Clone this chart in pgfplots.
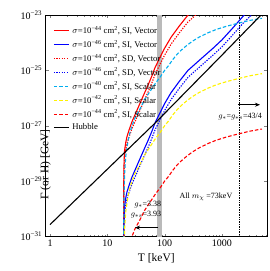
\documentclass[border=0pt]{standalone}
\usepackage{fontspec}
\setmainfont{Liberation Serif}
\usepackage{pgfplots}
\usepackage{pgfplotstable}
\pgfplotsset{compat=1.18}
\usetikzlibrary{arrows.meta}

\pgfplotstableread{
T G
19.32 3.162e-34
19.36 1e-32
19.4 1e-31
19.5 2.512e-31
19.7 6.310e-31
20 1.259e-30
21 2.512e-30
22 3.981e-30
24 7.079e-30
27 1.413e-29
32 3.162e-29
37 6.310e-29
45 1.585e-28
51 2.818e-28
60 6.310e-28
68 1.259e-27
80 2.512e-27
100 6.310e-27
130 1.585e-26
180 3.981e-26
256 1e-25
350 1.778e-25
450 2.818e-25
700 6.310e-25
1000 1.259e-24
1500 3.162e-24
2450 1e-23
3500 1.995e-23
}\bluesolid

\pgfplotstableread{
T G
19.32 1.778e-34
19.36 5.623e-33
19.4 5.623e-32
19.5 1.413e-31
19.7 3.548e-31
20 7.079e-31
21 1.413e-30
22 2.239e-30
24 3.981e-30
27 7.943e-30
32 1.778e-29
37 3.548e-29
45 8.913e-29
51 1.585e-28
60 3.548e-28
68 7.079e-28
80 1.413e-27
100 3.548e-27
130 8.913e-27
180 2.239e-26
256 5.623e-26
350 1e-25
450 1.585e-25
700 3.548e-25
1000 7.079e-25
1500 1.778e-24
2450 5.623e-24
3500 1.122e-23
5000 2.239e-23
}\bluedotted

\pgfplotstableread{
T G
19.32 3.162e-32
19.36 1e-30
19.4 1e-29
19.5 2.512e-29
19.7 6.310e-29
20 1.259e-28
21 2.512e-28
22 3.981e-28
24 7.079e-28
27 1.413e-27
32 3.162e-27
37 6.310e-27
45 1.585e-26
51 2.818e-26
60 6.310e-26
68 1.259e-25
80 2.512e-25
100 6.310e-25
130 1.585e-24
180 3.981e-24
256 1e-23
350 1.778e-23
}\redsolid

\pgfplotstableread{
T G
19.32 1.778e-32
19.36 5.623e-31
19.4 5.623e-30
19.5 1.413e-29
19.7 3.548e-29
20 7.079e-29
21 1.413e-28
22 2.239e-28
24 3.981e-28
27 7.943e-28
32 1.778e-27
37 3.548e-27
45 8.913e-27
51 1.585e-26
60 3.548e-26
68 7.079e-26
80 1.413e-25
100 3.548e-25
130 8.913e-25
180 2.239e-24
256 5.623e-24
350 1e-23
450 1.585e-23
}\reddotted

\pgfplotstableread{
T G
19.31 1.259e-32
19.35 1.995e-31
19.5 1.995e-30
20 1.698e-29
21 7.943e-29
23 2.884e-28
25 6.026e-28
27 1e-27
30 1.778e-27
37 3.981e-27
45 8.913e-27
56 1.778e-26
70 3.548e-26
83 5.623e-26
100 1e-25
115 1.413e-25
140 2.512e-25
165 3.802e-25
200 5.623e-25
250 8.318e-25
315 1.175e-24
400 1.585e-24
575 2.291e-24
800 3.020e-24
1230 3.981e-24
1900 5.012e-24
3000 6.310e-24
4600 7.413e-24
5000 7.586e-24
}\cyandashed

\pgfplotstableread{
T G
19.31 1.259e-34
19.35 1.995e-33
19.5 1.995e-32
20 1.698e-31
21 7.943e-31
23 2.884e-30
25 6.026e-30
27 1e-29
30 1.778e-29
37 3.981e-29
45 8.913e-29
56 1.778e-28
70 3.548e-28
83 5.623e-28
100 1e-27
115 1.413e-27
140 2.512e-27
165 3.802e-27
200 5.623e-27
250 8.318e-27
315 1.175e-26
400 1.585e-26
575 2.291e-26
800 3.020e-26
1230 3.981e-26
1900 5.012e-26
3000 6.310e-26
4600 7.413e-26
5000 7.586e-26
}\yellowdashed

\pgfplotstableread{
T G
19.31 1.259e-36
19.35 1.995e-35
19.5 1.995e-34
20 1.698e-33
21 7.943e-33
23 2.884e-32
25 6.026e-32
27 1e-31
30 1.778e-31
37 3.981e-31
45 8.913e-31
56 1.778e-30
70 3.548e-30
83 5.623e-30
100 1e-29
115 1.413e-29
140 2.512e-29
165 3.802e-29
200 5.623e-29
250 8.318e-29
315 1.175e-28
400 1.585e-28
575 2.291e-28
800 3.020e-28
1230 3.981e-28
1900 5.012e-28
3000 6.310e-28
4600 7.413e-28
5000 7.586e-28
}\reddashed

\pgfplotstableread{
T G
1 2.69e-31
10 2.69e-29
70 1.318e-27
300 2.818e-26
1000 3.548e-25
6124 1.66e-23
}\hubble

\begin{document}
\begin{tikzpicture}
\path[use as bounding box] (-45.7pt,-34.5pt) rectangle (224.3pt,236.5pt);
\begin{axis}[
  at={(0,0)}, anchor=south west,
  scale only axis, width=221.3pt, height=221.5pt,
  xmode=log, ymode=log,
  xmin=0.841, xmax=6124, ymin=1e-31, ymax=1e-23,
  xtick={1,10,100,1000}, xticklabels={1,10,100,1000},
  minor xtick={2,3,4,5,6,7,8,9,20,30,40,50,60,70,80,90,200,300,400,500,600,700,800,900,2000,3000,4000,5000,6000},
  ytick={1e-31,1e-29,1e-27,1e-25,1e-23},
  yticklabels={10\textsuperscript{−31},10\textsuperscript{−29},10\textsuperscript{−27},10\textsuperscript{−25},10\textsuperscript{−23}},
  yminorticks=false,
  tick align=inside,
  major tick length=3pt, minor tick length=1.6pt,
  tick label style={font=\fontsize{10}{11}\selectfont},
  xlabel={T [keV]}, ylabel={Γ (or H) [GeV]},
  every axis x label/.style={at={(axis description cs:0.5,0)}, anchor=center, yshift=-21.5pt, font=\fontsize{11.5}{12}\selectfont},
  every axis y label/.style={at={(axis description cs:0,0.5)}, anchor=center, rotate=90, xshift=-38.7pt, font=\fontsize{11.5}{12}\selectfont},
  legend image code/.code={\draw[#1, line width=1.1pt] (0pt,0pt) -- (15pt,0pt);},
  legend cell align=left,
  legend style={draw=none, fill opacity=0, text opacity=1, draw opacity=1, at={(0.033,0.96)}, anchor=north west, inner sep=0pt,
    font=\fontsize{8.7}{9}\selectfont, column sep=1pt, row sep=0.6pt},
]
\fill[black!27] (axis cs:73,1e-31) rectangle (axis cs:89,1e-23);
\draw[densely dotted, line width=0.7pt] (axis cs:2000,1e-31) -- (axis cs:2000,1e-23);

\addplot[draw=red, line width=1.1pt] table[x=T,y=G] {\redsolid};
\addlegendentry{$\sigma$=10\textsuperscript{−44} cm\textsuperscript{2}, SI, Vector}
\addplot[draw=blue, line width=1.1pt] table[x=T,y=G] {\bluesolid};
\addlegendentry{$\sigma$=10\textsuperscript{−46} cm\textsuperscript{2}, SI, Vector}
\addplot[draw=red, line width=1.1pt, dash pattern=on 1.3pt off 1.3pt] table[x=T,y=G] {\reddotted};
\addlegendentry{$\sigma$=10\textsuperscript{−44} cm\textsuperscript{2}, SD, Vector}
\addplot[draw=blue, line width=1.1pt, dash pattern=on 1.3pt off 1.3pt] table[x=T,y=G] {\bluedotted};
\addlegendentry{$\sigma$=10\textsuperscript{−46} cm\textsuperscript{2}, SD, Vector}
\addplot[draw=cyan, line width=1.1pt, dash pattern=on 3.5pt off 2pt] table[x=T,y=G] {\cyandashed};
\addlegendentry{$\sigma$=10\textsuperscript{−40} cm\textsuperscript{2}, SI, Scalar}
\addplot[draw=yellow, line width=1.1pt, dash pattern=on 3.5pt off 2pt] table[x=T,y=G] {\yellowdashed};
\addlegendentry{$\sigma$=10\textsuperscript{−42} cm\textsuperscript{2}, SI, Scalar}
\addplot[draw=red, line width=1.1pt, dash pattern=on 3.5pt off 2pt] table[x=T,y=G] {\reddashed};
\addlegendentry{$\sigma$=10\textsuperscript{−44} cm\textsuperscript{2}, SI, Scalar}
\addplot[draw=black, line width=1.1pt] table[x=T,y=G] {\hubble};
\addlegendentry{Hubble}

\draw[-{Stealth[length=5pt,width=4pt]}, line width=0.7pt] (axis cs:1905,5.75e-27) -- (axis cs:4620,5.75e-27);
\node[font=\fontsize{8}{9}\selectfont, anchor=center] at (axis cs:2070,2.09e-27) {$g_*$=$g_{*s}$=43/4};
\draw[-{Stealth[length=5pt,width=4pt]}, line width=0.7pt] (axis cs:76.7,2.09e-31) -- (axis cs:30.4,2.09e-31);
\node[font=\fontsize{8}{9}\selectfont, anchor=east, inner sep=0pt] at (axis cs:88,1.41e-30) {$g_*$=3.38};
\node[font=\fontsize{8}{9}\selectfont, anchor=east, inner sep=0pt] at (axis cs:88,6.31e-31) {$g_{*s}$=3.93};
\node[font=\fontsize{8}{9}\selectfont, anchor=center] at (axis cs:527,2.75e-30) {All $m_\chi$ =73keV};
\end{axis}
\end{tikzpicture}
\end{document}
